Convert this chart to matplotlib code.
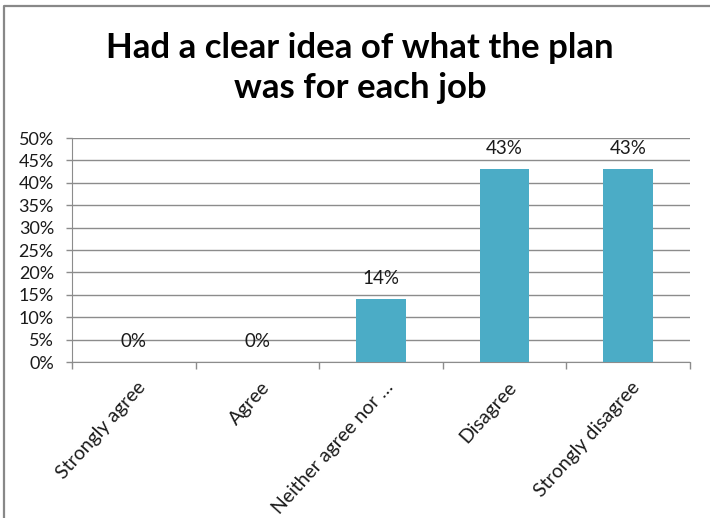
import matplotlib
matplotlib.use('Agg')
import matplotlib.pyplot as plt
from matplotlib.ticker import MultipleLocator, PercentFormatter
from matplotlib.lines import Line2D
import matplotlib.transforms as mtransforms

categories = ["Strongly agree", "Agree", "Neither agree nor \u2026", "Disagree", "Strongly disagree"]
values = [0, 0, 14, 43, 43]
title = "Had a clear idea of what the plan\nwas for each job"

plt.rcParams['font.family'] = ['Lato', 'DejaVu Sans']

fig = plt.figure(figsize=(7.10, 5.18), dpi=100)
ax = fig.add_axes([0.1014, 0.301, 0.870, 0.4324])

x = range(len(categories))
ax.bar(x, values, width=0.4, color='#4BACC6', zorder=3)
for xi, v in zip(x, values):
    ax.annotate(f"{v}%", (xi, v), xytext=(0, 15), textcoords='offset points',
                ha='center', va='center', fontsize=13.5, color='#1a1a1a')

ax.set_xlim(-0.5, len(categories) - 0.5)
ax.set_ylim(0, 50)
ax.yaxis.set_major_locator(MultipleLocator(5))
ax.yaxis.set_major_formatter(PercentFormatter(decimals=0))
ax.grid(axis='y', color='#8c8c8c', linewidth=1, zorder=0)

# category boundaries as tick marks, labels centred under each bar
ax.set_xticks([i + 0.5 for i in range(-1, len(categories))])
ax.set_xticklabels([])
ax.tick_params(axis='x', length=5, color='#8c8c8c', width=1)
ax.tick_params(axis='y', length=4, color='#8c8c8c', width=1, labelsize=13,
               labelcolor='#1a1a1a', pad=9)
offset = mtransforms.ScaledTranslation(2 / 72, -12 / 72, fig.dpi_scale_trans)
trans = mtransforms.blended_transform_factory(ax.transData, ax.transAxes) + offset
for xi, lab in zip(x, categories):
    ax.text(xi, 0, lab, rotation=48, ha='right', va='top', rotation_mode='anchor',
            fontsize=14, color='#1a1a1a', transform=trans)

for side in ['top', 'right']:
    ax.spines[side].set_visible(False)
ax.spines['left'].set_color('#8c8c8c')
ax.spines['bottom'].set_color('#8c8c8c')

fig.text(0.507, 0.868, title, ha='center', va='center', fontsize=25,
         fontweight='bold', linespacing=1.3)

# frame on the top and left edges only
fig.lines.append(Line2D([0.005, 0.005, 1.0], [0.0, 0.989, 0.989], transform=fig.transFigure,
                        color='#888888', linewidth=1.6))

fig.savefig('out.png', dpi=100)
